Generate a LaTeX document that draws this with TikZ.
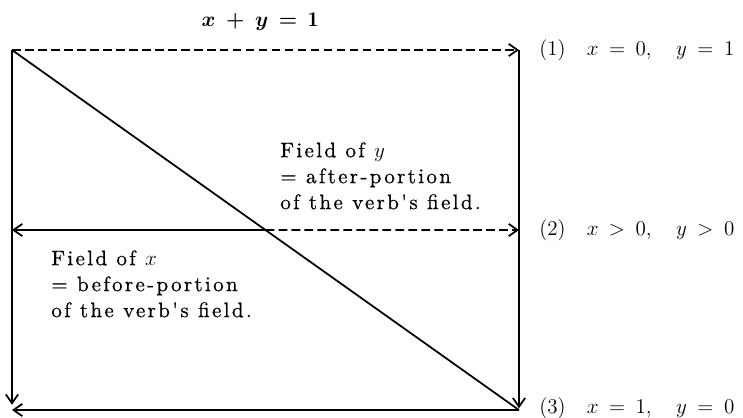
\documentclass[tikz,border=0pt]{standalone}
\usepackage{amsmath}
\usepackage{fontspec}
\usetikzlibrary{arrows.meta,positioning,calc}
\newfontfamily\wideroman{lmroman10-regular.otf}[LetterSpace=11,FakeBold=0.6]
\tikzset{
  edg/.style={line width=1pt},
  dsh/.style={line width=1pt,dash pattern=on 5pt off 2.4pt},
  arr/.style={-{Straight Barb[length=5pt,width=7pt,line width=1pt]}},
  lbl/.style={font=\fontsize{12}{14}\selectfont,inner sep=0pt},
  note/.style={font=\wideroman\fontsize{12}{14.8}\selectfont,align=left,inner sep=0pt,anchor=north west},
  wmath/.style={execute at begin node={\medmuskip=9mu\thickmuskip=9mu}},
}

\begin{document}
\begin{tikzpicture}[x=0.57pt,y=-0.57pt]
  \useasboundingbox (0,0) rectangle (743,417);
  % ---------------- corners of the field
  \coordinate (tl) at (12,50);
  \coordinate (tr) at (519,50);
  \coordinate (ml) at (12,230);
  \coordinate (mr) at (519,230);
  \coordinate (bl) at (12,410);
  \coordinate (br) at (519,410);
  \coordinate (cut) at (intersection of tl--br and ml--mr);
  % ---------------- field lines
  \draw[dsh,arr] (tl) -- (tr);
  \draw[edg,arr,shorten >=3pt] (tl) -- (bl);
  \draw[edg,arr,shorten >=1pt] (tr) -- (br);
  \draw[edg,arr] (br) -- (bl);
  \draw[edg,arr] (cut) -- (ml);
  \draw[dsh,arr] (cut) -- (mr);
  \draw[edg] (tl) -- (br);
  % ---------------- labels
  \node[lbl,wmath] (sum) at (260,22) {$\boldsymbol{x}\boldsymbol{+}\boldsymbol{y}\boldsymbol{=}\mathbf{1}$};
  \node[lbl,wmath,anchor=west] (case1) at (539,50) {(1)\quad$x=0$,\hspace{14pt}$y=1$};
  \node[lbl,wmath,anchor=west] (case2) at (539,230) {(2)\quad$x>0$,\hspace{14pt}$y>0$};
  \node[lbl,wmath,anchor=west] (case3) at (539,408) {(3)\quad$x=1$,\hspace{14pt}$y=0$};
  \node[note] (fieldy) at (280,142) {Field of $y$\\= after-portion\\of the verb's field.};
  \node[note] (fieldx) at (51,250) {Field of $x$\\= before-portion\\of the verb's field.};
\end{tikzpicture}
\end{document}
